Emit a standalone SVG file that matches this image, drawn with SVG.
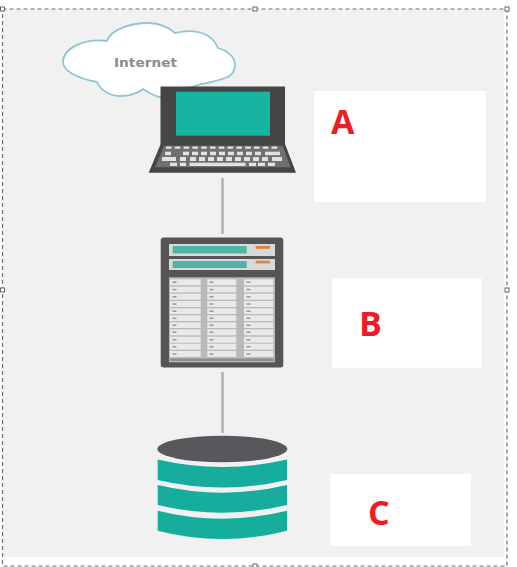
<svg xmlns="http://www.w3.org/2000/svg" width="517" height="567" viewBox="0 0 517 567">
<defs>
<filter id="soft" x="-5%" y="-5%" width="110%" height="110%"><feGaussianBlur stdDeviation="0.4"/></filter>
<style>
.frame{fill:none;stroke:#6f6f6f;stroke-width:1.2;stroke-dasharray:4 3}
.handle{fill:#fff;stroke:#666;stroke-width:1}
.link{fill:none;stroke:#b3b3b3;stroke-width:2.6}
.box{fill:#fff}
.lbl{font-family:"Open Sans","Liberation Sans",sans-serif;font-weight:700;font-size:34px;fill:#ee1c25}
.key{fill:#e2e2e2}
.skey{fill:#e9e9e9}
.dot{fill:#999}
.teal{fill:#12ad9c}
.tealb{fill:#4fb3a8}
.org{fill:#dd8440}
</style>
</defs>
<rect width="517" height="567" fill="#fff"/>
<rect x="3" y="9" width="501" height="548" fill="#f1f1f1"/>
<g id="selection-frame">
<rect class="frame" x="2.5" y="9" width="504.5" height="557"/>
<rect class="handle" x="0.5" y="7" width="4" height="4"/>
<rect class="handle" x="253" y="7" width="4" height="4"/>
<rect class="handle" x="505" y="7" width="4" height="4"/>
<rect class="handle" x="0.5" y="288" width="4" height="4"/>
<rect class="handle" x="505" y="288" width="4" height="4"/>
<rect class="handle" x="253" y="564" width="4" height="4"/>
</g>
<g id="connectors">
<line class="link" x1="222.5" y1="178" x2="222.5" y2="234"/>
<line class="link" x1="222.5" y1="372" x2="222.5" y2="433"/>
</g>
<g id="internet">
<path d="M107 41C110 30 130 23 148 23C160 23 170 28 175 33C195 28 212 33 218 48C226 50 235 56 235 65C235 72 231 76 225 78C215 82 205 83 198 85L160 97C153 96 148 92 143 89C138 93 130 96 120 96C110 96 100 90 97 82C75 78 63 70 63 62C63 48 85 38 107 41Z" fill="#fff" stroke="#8ec6d2" stroke-width="1.8" filter="url(#soft)"/>
<text x="114" y="66.5" font-family="'DejaVu Sans',sans-serif" font-weight="700" font-size="11.8" fill="#8c8c8c" textLength="63" lengthAdjust="spacingAndGlyphs">Internet</text>
</g>
<g id="laptop" filter="url(#soft)">
<rect x="160.5" y="86.5" width="124.5" height="58" fill="#444"/>
<rect x="176" y="91.7" width="94" height="44" fill="#15b5a2"/>
<path d="M160.7 144H285L296 172.700H148.700Z" fill="#444"/>
<path d="M164 145.700H282.700L290.700 167.300H155Z" fill="#6f6f6f"/>
<line x1="166" y1="147.700" x2="280" y2="147.700" stroke="#e2e2e2" stroke-width="2.300" stroke-dasharray="5.500 3.300"/>
<g class="key">
<rect x="165" y="151.700" width="6" height="3.500"/><rect x="183" y="151.700" width="6" height="3.500"/><rect x="192" y="151.700" width="6" height="3.500"/><rect x="201" y="151.700" width="6" height="3.500"/><rect x="210" y="151.700" width="6" height="3.500"/><rect x="219" y="151.700" width="6" height="3.500"/><rect x="228" y="151.700" width="6" height="3.500"/><rect x="237" y="151.700" width="6" height="3.500"/><rect x="246" y="151.700" width="6" height="3.500"/><rect x="255" y="151.700" width="6" height="3.500"/><rect x="265" y="151.700" width="15" height="3.500"/>
<rect x="162" y="157" width="14" height="4"/><rect x="180" y="157" width="6" height="4"/><rect x="190" y="157" width="6" height="4"/><rect x="199" y="157" width="6" height="4"/><rect x="208" y="157" width="6" height="4"/><rect x="217" y="157" width="6" height="4"/><rect x="226" y="157" width="6" height="4"/><rect x="235" y="157" width="6" height="4"/><rect x="244" y="157" width="6" height="4"/><rect x="253" y="157" width="6" height="4"/><rect x="262" y="157" width="6" height="4"/><rect x="272" y="157" width="10" height="4"/>
<rect x="170" y="162.700" width="7" height="3.300"/><rect x="180" y="162.700" width="6" height="3.300"/><rect x="189.500" y="162.700" width="56" height="3.300"/><rect x="249" y="162.700" width="7" height="3.300"/><rect x="258" y="162.700" width="7" height="3.300"/><rect x="268" y="162.700" width="7" height="3.300"/>
</g>
</g>
<g id="server" filter="url(#soft)">
<rect x="160.700" y="237.500" width="122.600" height="130" rx="3" fill="#555"/>
<rect x="169" y="244" width="106" height="12" fill="#d9d9d9"/>
<rect x="169" y="259" width="106" height="11" fill="#d9d9d9"/>
<rect class="tealb" x="172.700" y="246" width="74" height="7.500"/>
<rect class="tealb" x="172.700" y="261" width="74" height="7"/>
<rect class="org" x="255.700" y="246" width="14.300" height="2.800"/>
<rect class="org" x="255.700" y="260.700" width="14.300" height="2.700"/>
<rect x="169" y="277.300" width="106" height="85" fill="#b9b9b9"/>
<g id="server-slots">
<rect class="skey" x="170" y="279.300" width="30.700" height="6"/><rect class="skey" x="207.300" y="279.300" width="29" height="6"/><rect class="skey" x="244" y="279.300" width="29.300" height="6"/>
<rect class="skey" x="170" y="286.700" width="30.700" height="5.700"/><rect class="skey" x="207.300" y="286.700" width="29" height="5.700"/><rect class="skey" x="244" y="286.700" width="29.300" height="5.700"/>
<rect class="skey" x="170" y="293.700" width="30.700" height="6"/><rect class="skey" x="207.300" y="293.700" width="29" height="6"/><rect class="skey" x="244" y="293.700" width="29.300" height="6"/>
<rect class="skey" x="170" y="301" width="30.700" height="6"/><rect class="skey" x="207.300" y="301" width="29" height="6"/><rect class="skey" x="244" y="301" width="29.300" height="6"/>
<rect class="skey" x="170" y="308.300" width="30.700" height="5.700"/><rect class="skey" x="207.300" y="308.300" width="29" height="5.700"/><rect class="skey" x="244" y="308.300" width="29.300" height="5.700"/>
<rect class="skey" x="170" y="315.300" width="30.700" height="5.700"/><rect class="skey" x="207.300" y="315.300" width="29" height="5.700"/><rect class="skey" x="244" y="315.300" width="29.300" height="5.700"/>
<rect class="skey" x="170" y="322.300" width="30.700" height="5.700"/><rect class="skey" x="207.300" y="322.300" width="29" height="5.700"/><rect class="skey" x="244" y="322.300" width="29.300" height="5.700"/>
<rect class="skey" x="170" y="329.300" width="30.700" height="6"/><rect class="skey" x="207.300" y="329.300" width="29" height="6"/><rect class="skey" x="244" y="329.300" width="29.300" height="6"/>
<rect class="skey" x="170" y="336.700" width="30.700" height="6"/><rect class="skey" x="207.300" y="336.700" width="29" height="6"/><rect class="skey" x="244" y="336.700" width="29.300" height="6"/>
<rect class="skey" x="170" y="343.700" width="30.700" height="6"/><rect class="skey" x="207.300" y="343.700" width="29" height="6"/><rect class="skey" x="244" y="343.700" width="29.300" height="6"/>
<rect class="skey" x="170" y="351" width="30.700" height="6"/><rect class="skey" x="207.300" y="351" width="29" height="6"/><rect class="skey" x="244" y="351" width="29.300" height="6"/>
</g>
<g id="server-dots">
<rect class="dot" x="172.500" y="281.500" width="4" height="1.500"/><rect class="dot" x="209.500" y="281.500" width="4" height="1.500"/><rect class="dot" x="246.500" y="281.500" width="4" height="1.500"/>
<rect class="dot" x="172.500" y="288.800" width="4" height="1.500"/><rect class="dot" x="209.500" y="288.800" width="4" height="1.500"/><rect class="dot" x="246.500" y="288.800" width="4" height="1.500"/>
<rect class="dot" x="172.500" y="296" width="4" height="1.500"/><rect class="dot" x="209.500" y="296" width="4" height="1.500"/><rect class="dot" x="246.500" y="296" width="4" height="1.500"/>
<rect class="dot" x="172.500" y="303.300" width="4" height="1.500"/><rect class="dot" x="209.500" y="303.300" width="4" height="1.500"/><rect class="dot" x="246.500" y="303.300" width="4" height="1.500"/>
<rect class="dot" x="172.500" y="310.500" width="4" height="1.500"/><rect class="dot" x="209.500" y="310.500" width="4" height="1.500"/><rect class="dot" x="246.500" y="310.500" width="4" height="1.500"/>
<rect class="dot" x="172.500" y="317.500" width="4" height="1.500"/><rect class="dot" x="209.500" y="317.500" width="4" height="1.500"/><rect class="dot" x="246.500" y="317.500" width="4" height="1.500"/>
<rect class="dot" x="172.500" y="324.500" width="4" height="1.500"/><rect class="dot" x="209.500" y="324.500" width="4" height="1.500"/><rect class="dot" x="246.500" y="324.500" width="4" height="1.500"/>
<rect class="dot" x="172.500" y="331.500" width="4" height="1.500"/><rect class="dot" x="209.500" y="331.500" width="4" height="1.500"/><rect class="dot" x="246.500" y="331.500" width="4" height="1.500"/>
<rect class="dot" x="172.500" y="339" width="4" height="1.500"/><rect class="dot" x="209.500" y="339" width="4" height="1.500"/><rect class="dot" x="246.500" y="339" width="4" height="1.500"/>
<rect class="dot" x="172.500" y="346" width="4" height="1.500"/><rect class="dot" x="209.500" y="346" width="4" height="1.500"/><rect class="dot" x="246.500" y="346" width="4" height="1.500"/>
<rect class="dot" x="172.500" y="353.300" width="4" height="1.500"/><rect class="dot" x="209.500" y="353.300" width="4" height="1.500"/><rect class="dot" x="246.500" y="353.300" width="4" height="1.500"/>
</g>
<rect x="170" y="358.500" width="104" height="2.500" fill="#8d8d8d"/>
</g>
<g id="database" filter="url(#soft)">
<path class="teal" d="M157.700 459.500Q222.300 474.500 287 459.500V480Q222.300 495 157.700 480Z"/>
<path class="teal" d="M157.700 485Q222.300 500.400 287 485V505Q222.300 520.400 157.700 505Z"/>
<path class="teal" d="M157.700 510.700Q222.300 526.700 287 510.700V530.700Q222.300 547.300 157.700 530.700Z"/>
<ellipse cx="222.300" cy="449" rx="65" ry="13.300" fill="#58595b"/>
</g>
<g id="node-a">
<rect class="box" x="314" y="91" width="172" height="111"/>
<text class="lbl" x="331" y="134">A</text>
</g>
<g id="node-b">
<rect class="box" x="332.300" y="278.300" width="149.400" height="89.400"/>
<text class="lbl" x="359" y="336">B</text>
</g>
<g id="node-c">
<rect class="box" x="330.500" y="474" width="140.500" height="72"/>
<text class="lbl" x="368" y="525">C</text>
</g>
</svg>
